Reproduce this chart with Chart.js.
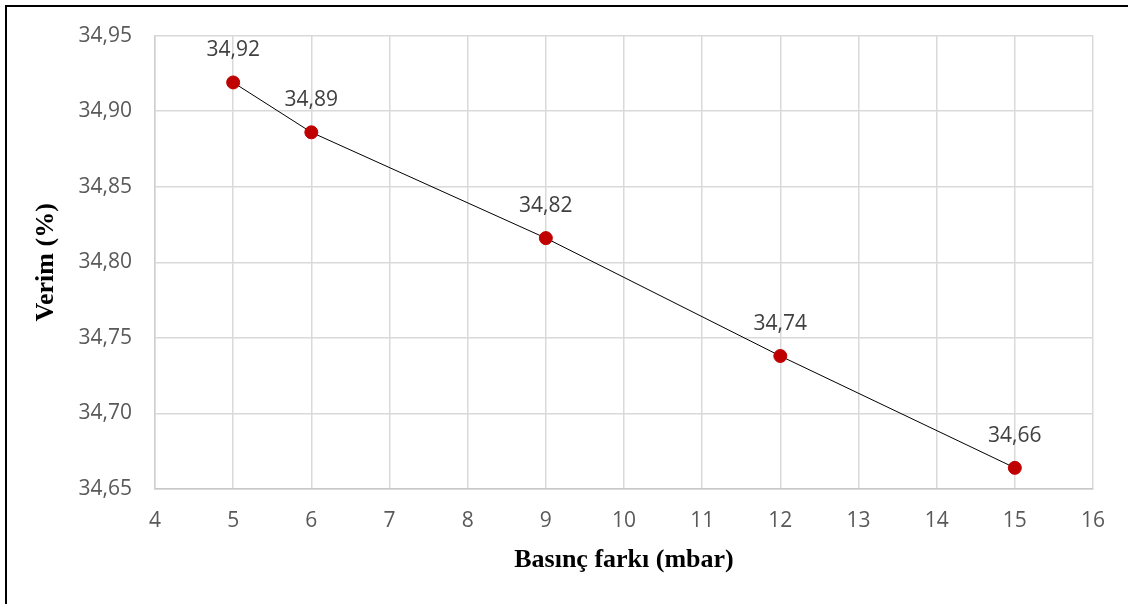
<!DOCTYPE html>
<html>
<head>
<meta charset="utf-8">
<script src="https://cdn.jsdelivr.net/npm/chart.js@4/dist/chart.umd.min.js"></script>
<style>
  html, body { margin: 0; padding: 0; background: #fff; }
  #wrap { position: relative; width: 1128px; height: 604px; }
  #frame { position: absolute; left: 5px; top: 5px; right: 0; bottom: 0;
           border-top: 2px solid #000; border-left: 2px solid #000; pointer-events: none; }
  canvas { position: absolute; left: 0; top: 0; }
</style>
</head>
<body>
<div id="wrap">
  <canvas id="c" width="1128" height="604"></canvas>
  <div id="frame"></div>
</div>
<script>
// Pressure difference (mbar) and efficiency (%)
const pressureDiff = [5, 6, 9, 12, 15];
const efficiency = [34.919, 34.886, 34.816, 34.738, 34.664];
const yTicks = [34.65, 34.70, 34.75, 34.80, 34.85, 34.90, 34.95];
const xTicks = [4, 5, 6, 7, 8, 9, 10, 11, 12, 13, 14, 15, 16];

const fmt = v => (Math.round(v * 100) / 100).toFixed(2).replace('.', ',');
const tickFont = { family: "'Open Sans', sans-serif", size: 21 };
const titleFont = { family: "'Liberation Serif', 'Times New Roman', serif", size: 26, weight: 'bold' };

// Draws the value above each point
const valueLabels = {
  id: 'valueLabels',
  afterDatasetsDraw(chart) {
    const ctx = chart.ctx;
    const meta = chart.getDatasetMeta(0);
    ctx.save();
    ctx.font = `${tickFont.size}px ${tickFont.family}`;
    ctx.fillStyle = '#404040';
    ctx.textAlign = 'center';
    ctx.textBaseline = 'middle';
    meta.data.forEach((pt, i) => {
      ctx.fillText(fmt(efficiency[i]), pt.x, pt.y - 32);
    });
    ctx.restore();
  }
};

new Chart(document.getElementById('c'), {
  type: 'scatter',
  data: {
    datasets: [{
      data: pressureDiff.map((x, i) => ({ x, y: efficiency[i] })),
      showLine: true,
      borderColor: '#000',
      borderWidth: 1,
      pointBackgroundColor: '#c00000',
      pointBorderColor: '#c00000',
      pointRadius: 6.5,
      pointHoverRadius: 6.5
    }]
  },
  options: {
    responsive: false,
    animation: false,
    layout: { padding: { top: 35, right: 35, left: 0, bottom: 0 } },
    plugins: { legend: { display: false }, tooltip: { enabled: false } },
    scales: {
      x: {
        type: 'linear',
        min: 4, max: 16,
        afterBuildTicks: s => { s.ticks = xTicks.map(v => ({ value: v })); },
        afterFit: s => { s.height = 115; },
        grid: { color: '#d9d9d9', lineWidth: 1.5, drawTicks: false },
        border: { color: '#c8c8c8', width: 1.5 },
        ticks: { color: '#595959', font: tickFont, padding: 19, maxRotation: 0 },
        title: { display: true, text: 'Basınç farkı (mbar)', color: '#000', font: titleFont,
                 padding: { top: 0, bottom: 28 } }
      },
      y: {
        type: 'linear',
        min: 34.65, max: 34.95,
        afterBuildTicks: s => { s.ticks = yTicks.map(v => ({ value: v })); },
        afterFit: s => { s.width = 155; },
        grid: { color: '#d9d9d9', lineWidth: 1.5, drawTicks: false },
        border: { color: '#d0d0d0', width: 1.5 },
        ticks: { color: '#595959', font: tickFont, padding: 23, callback: v => fmt(v) },
        title: { display: true, text: 'Verim (%)', color: '#000', font: titleFont,
                 padding: { top: 31, bottom: 0 } }
      }
    }
  },
  plugins: [valueLabels]
});
</script>
</body>
</html>
